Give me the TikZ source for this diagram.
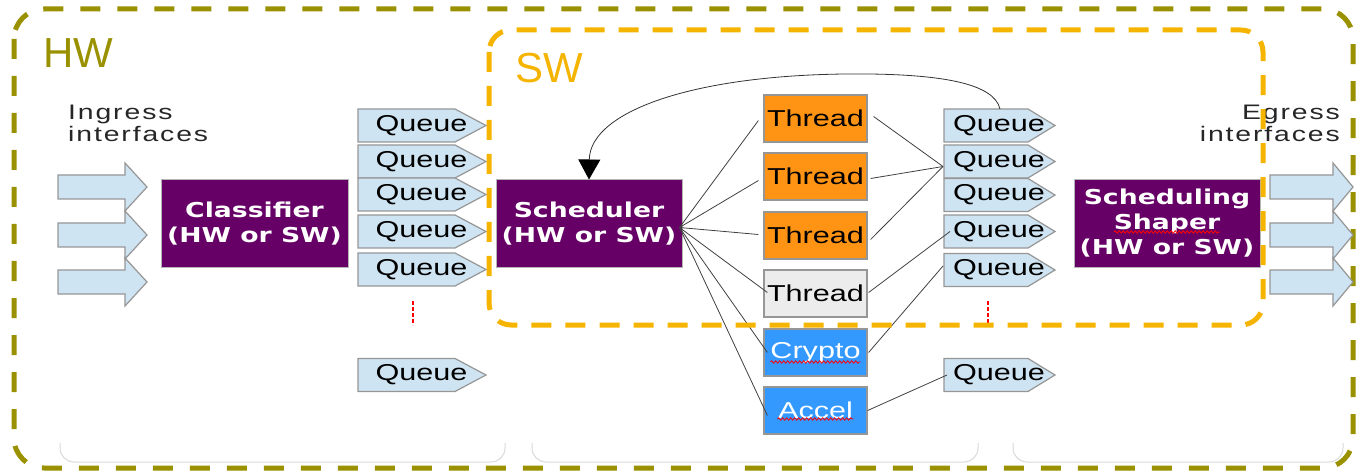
\documentclass[tikz,border=0pt]{standalone}
\usepackage{fontspec}
\setmainfont{Liberation Sans}
\newfontfamily\qfont[FakeStretch=1.33]{Liberation Sans}
\newfontfamily\bfnt[FakeStretch=1.3]{DejaVu Sans}
\newfontfamily\ifont[FakeStretch=1.35,LetterSpace=9]{Liberation Sans}
\usetikzlibrary{arrows.meta,calc,decorations.pathmorphing}
\definecolor{hwcol}{RGB}{153,145,0}
\definecolor{swcol}{RGB}{245,180,0}
\definecolor{purp}{RGB}{102,0,102}
\definecolor{thr}{RGB}{255,148,20}
\definecolor{thrgray}{RGB}{236,236,236}
\definecolor{acc}{RGB}{51,153,255}
\definecolor{qcol}{RGB}{207,228,242}
\definecolor{bord}{RGB}{150,150,150}
\tikzset{
  qnode/.style={draw=none, minimum height=33pt, inner sep=0pt, outer sep=0pt},
  qshape/.style={fill=qcol, draw=bord, line width=1.2pt},
  qtext/.style={font=\qfont\fontsize{23}{27}\selectfont, text=black, inner sep=0pt},
  pbox/.style={fill=purp, draw=bord!70, line width=1pt, minimum width=187pt, minimum height=87pt,
    inner sep=0pt, text=white, align=center, font=\bfnt\bfseries\fontsize{20.5}{25}\selectfont},
  tbox/.style={draw=bord, line width=1.2pt, minimum width=103pt, minimum height=47pt, inner sep=0pt,
    font=\qfont\fontsize{23}{27}\selectfont},
  conn/.style={draw=black!75, line width=0.8pt},
  iarrow/.style={fill=qcol, draw=bord, line width=1.2pt},
  wavy/.style={draw=red, line width=0.8pt, decorate, decoration={snake, amplitude=1.2pt, segment length=4pt}},
  dots/.style={draw=red, line width=1.5pt, dash pattern=on 4pt off 2pt},
  brk/.style={draw=black!15, line width=1pt, rounded corners=14pt},
  hwbox/.style={draw=hwcol, line width=5pt, dash pattern=on 20pt off 17pt, rounded corners=30pt},
  swbox/.style={draw=swcol, line width=5pt, dash pattern=on 20pt off 14pt, rounded corners=22pt},
  itext/.style={font=\ifont\fontsize{21}{23}\selectfont, text=black!85, inner sep=0pt},
}
\newcommand\queueL[2]{%
  \node[qnode, minimum width=97pt] (#1) at (406.5,#2) {};
  \draw[qshape] (#1.north west) -- (#1.north east) -- ($(#1.east)+(31,0)$) -- (#1.south east) -- (#1.south west) -- cycle;
  \node[qtext] at ($(#1.center)+(15,0)$) {Queue};
}
\newcommand\queueR[2]{%
  \node[qnode, minimum width=84pt] (#1) at (986,#2) {};
  \draw[qshape] (#1.north west) -- (#1.north east) -- ($(#1.east)+(27,0)$) -- (#1.south east) -- (#1.south west) -- cycle;
  \node[qtext] at ($(#1.center)+(13,0)$) {Queue};
}
\newcommand\ioarrow[4]{%
  \draw[iarrow] (#1,#4-12) -- (#2,#4-12) -- (#2,#4-24) -- (#3,#4) -- (#2,#4+24) -- (#2,#4+12) -- (#1,#4+12) -- cycle;
}
\begin{document}
\begin{tikzpicture}[x=1pt,y=-1pt]
\useasboundingbox (0,0) rectangle (1363,473);
% faint brackets at bottom
\draw[brk] (60,443) -- (60,462) -- (505,462) -- (505,443);
\draw[brk] (532,443) -- (532,462) -- (978,462) -- (978,443);
\draw[brk] (1013,443) -- (1013,462) -- (1343,462) -- (1343,443);
% HW box
\draw[hwbox] (14,9) rectangle (1353,468);
\node[anchor=base west, text=hwcol, font=\fontsize{42}{50}\selectfont, inner sep=0pt] (hwl) at (43,68) {HW};
% ingress
\node[itext, anchor=base west] (ing1) at (68,120) {Ingress};
\node[itext, anchor=base west] (ing2) at (68,142) {interfaces};
\ioarrow{58}{125}{147}{187}
\ioarrow{58}{125}{147}{235}
\ioarrow{58}{125}{147}{282}
% egress
\node[itext, anchor=base east] (eg1) at (1340,120) {Egress};
\node[itext, anchor=base east] (eg2) at (1340,142) {interfaces};
\ioarrow{1270}{1333}{1353}{187}
\ioarrow{1270}{1333}{1353}{235}
\ioarrow{1270}{1333}{1353}{282}
% purple boxes
\node[pbox] (cls) at (254.5,223.5) {Classifier\\(HW or SW)};
\node[pbox, minimum width=186pt] (sched) at (589,223.5) {Scheduler\\(HW or SW)};
\node[pbox, minimum width=186pt] (shap) at (1167,223.5) {Scheduling\\Shaper\\(HW or SW)};
% left queues
\queueL{qL1}{125.5}
\queueL{qL2}{161.5}
\queueL{qL3}{194.5}
\queueL{qL4}{231.5}
\queueL{qL5}{269.5}
\queueL{qL6}{375}
% right queues
\queueR{qR1}{125.5}
\queueR{qR2}{161.5}
\queueR{qR3}{195}
\queueR{qR4}{231.5}
\queueR{qR5}{270}
\queueR{qR6}{375}
% threads
\node[tbox, fill=thr] (t1) at (815.5,118.5) {Thread};
\node[tbox, fill=thr] (t2) at (815.5,176.5) {Thread};
\node[tbox, fill=thr] (t3) at (815.5,235.5) {Thread};
\node[tbox, fill=thrgray] (t4) at (815.5,293.5) {Thread};
\node[tbox, fill=acc, text=white] (cr) at (815.5,352.5) {Crypto};
\node[tbox, fill=acc, text=white] (ac) at (815.5,410.5) {Accel};
% spell-check underlines
\draw[wavy] ($(cr.center)+(-45,9.5)$) -- ($(cr.center)+(45,9.5)$);
\draw[wavy] ($(ac.center)+(-38,8.5)$) -- ($(ac.center)+(38,8.5)$);
\draw[wavy] ($(shap.center)+(-53,8.5)$) -- ($(shap.center)+(53,8.5)$);
% scheduler fan
\draw[conn] ($(sched.east)+(-3,4)$) -- ($(t1.west)+(-5,2)$);
\draw[conn] ($(sched.east)+(-3,4)$) -- ($(t2.west)+(-5,4)$);
\draw[conn] ($(sched.east)+(-3,4)$) -- ($(t3.west)+(-5,-1)$);
\draw[conn] ($(sched.east)+(-3,4)$) -- ($(t4.west)+(4,-1)$);
\draw[conn] ($(sched.east)+(-3,4)$) -- ($(cr.west)+(4,0)$);
\draw[conn] ($(sched.east)+(-3,4)$) -- ($(ac.west)+(4,5)$);
% threads to queues
\draw[conn] ($(t1.east)+(6,-2)$) -- ($(qR2.west)+(-1,5)$);
\draw[conn] ($(t2.east)+(3,2)$) -- ($(qR2.west)+(-1,5)$);
\draw[conn] ($(t3.east)+(3,4)$) -- ($(qR2.west)+(-1,5)$);
\draw[conn] ($(t4.east)+(1,-1)$) -- ($(qR4.west)+(6,0)$);
\draw[conn] ($(cr.east)+(1,0)$) -- ($(qR5.west)+(-1,-4)$);
\draw[conn] ($(ac.east)+(0,0)$) -- ($(qR6.west)+(3,0)$);
% feedback
\draw[draw=black!80, line width=0.8pt, -{Triangle[width=22pt,length=20pt,color=black]}]
  ($(qR1.north)+(14,0)$) .. controls +(-6,-26) and +(70,1) .. (870,74)
  .. controls (700,72) and (590,110) .. (sched.north);
% red dotted markers
\draw[dots] (413,301) -- (413,325);
\draw[dots] (988,301) -- (988,325);
% SW box
\draw[swbox] (489,30) rectangle (1263,325);
\node[anchor=base west, text=swcol, font=\fontsize{42}{50}\selectfont, inner sep=0pt] (swl) at (515,83) {SW};
\end{tikzpicture}
\end{document}
